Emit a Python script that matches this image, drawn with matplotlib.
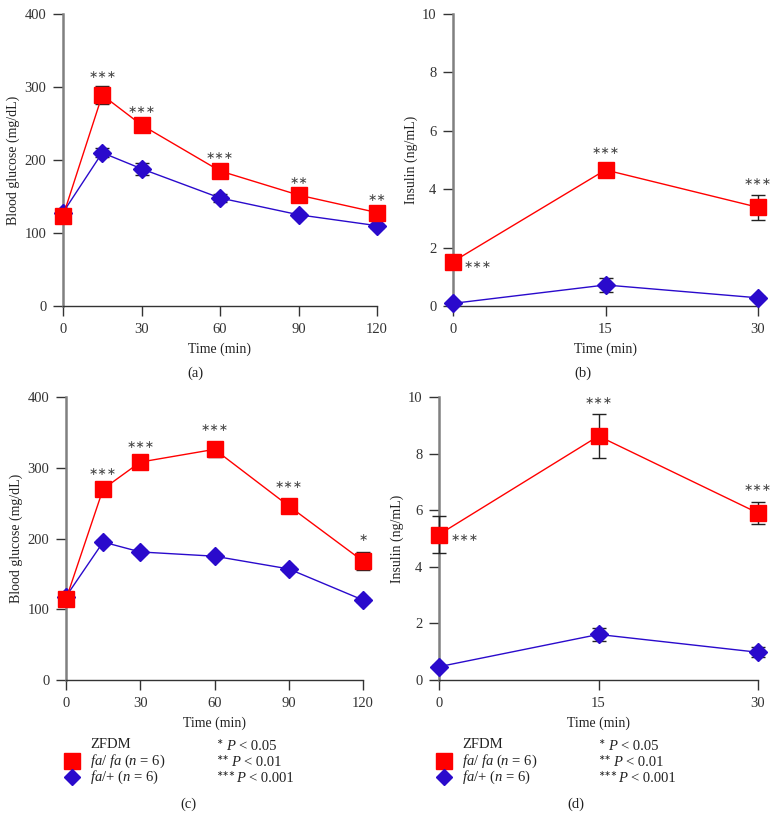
import matplotlib
matplotlib.use("Agg")
import matplotlib.pyplot as plt
from matplotlib.lines import Line2D

plt.rcParams['font.family'] = ['Liberation Serif', 'DejaVu Serif']
plt.rcParams['mathtext.fontset'] = 'custom'
plt.rcParams['mathtext.rm'] = 'Liberation Serif'
plt.rcParams['mathtext.it'] = 'Liberation Serif:italic'

# ---- data ----
t_glu = [0, 15, 30, 60, 90, 120]
t_ins = [0, 15, 30]
glu_ticks = [0, 30, 60, 90, 120]

# (a)
a_fafa = [123, 289, 248, 185, 152, 128]
a_fafa_err = [5, 12, 6, 5, 5, 5]
a_fap = [128, 210, 188, 148, 125, 110]
a_fap_err = [3, 6, 8, 5, 3, 3]
a_stars = ['', '***', '***', '***', '**', '**']

# (b)
b_fafa = [1.52, 4.66, 3.38]
b_fafa_err = [0.1, 0.22, 0.43]
b_fap = [0.09, 0.72, 0.28]
b_fap_err = [0.03, 0.23, 0.05]
b_stars = ['***', '***', '***']

# (c)
c_fafa = [114, 270, 308, 326, 246, 168]
c_fafa_err = [5, 5, 5, 11, 10, 13]
c_fap = [118, 195, 181, 175, 157, 113]
c_fap_err = [3, 3, 3, 3, 3, 3]
c_stars = ['', '***', '***', '***', '***', '*']

# (d)
d_fafa = [5.14, 8.62, 5.9]
d_fafa_err = [0.65, 0.77, 0.4]
d_fap = [0.47, 1.61, 0.98]
d_fap_err = [0.05, 0.23, 0.18]
d_stars = ['***', '***', '***']

red = '#ff0000'
blue = '#2a0acc'
ink = '#222222'

fig = plt.figure(figsize=(7.76, 8.18), dpi=100)
W, H = 776, 818


def make_ax(x0, x1, ytop, ybot):
    return fig.add_axes([x0 / W, 1 - ybot / H, (x1 - x0) / W, (ybot - ytop) / H])


def style(ax, xt, yt, ylabel, xlim, ylim):
    ax.set_xlim(*xlim)
    ax.set_ylim(*ylim)
    ax.set_xticks(xt)
    ax.set_yticks(yt)
    for s in ['top', 'right']:
        ax.spines[s].set_visible(False)
    ax.spines['left'].set_color('#808080')
    ax.spines['left'].set_linewidth(1.8)
    ax.spines['bottom'].set_color('#333333')
    ax.spines['bottom'].set_linewidth(1.0)
    ax.tick_params(direction='out', length=7, width=1, colors='#333333',
                   labelsize=10.5, pad=5)
    ax.set_xlabel('Time (min)', fontsize=10, color=ink, labelpad=5)
    ax.set_ylabel(ylabel, fontsize=10, color=ink, labelpad=3)


def stars_text(ax, x, y, s, **kw):
    ax.text(x, y, '\u2217' * len(s), fontsize=8, color='#444444',
            family=['DejaVu Sans'], **kw)


def draw(ax, t, red_v, red_e, blue_v, blue_e, stars, star_off, side=False):
    ax.errorbar(t, blue_v, yerr=blue_e, color=blue, marker='D', ms=9, lw=1,
                capsize=5, ecolor=ink, elinewidth=1, clip_on=False, zorder=3)
    ax.errorbar(t, red_v, yerr=red_e, color=red, marker='s', ms=12, lw=1,
                capsize=5, ecolor=ink, elinewidth=1, clip_on=False, zorder=4)
    for i, s in enumerate(stars):
        if not s:
            continue
        if side and i == 0:
            stars_text(ax, t[i] + (t[-1] - t[0]) * 0.035, red_v[i] - star_off * 0.4, s,
                       ha='left', va='center')
        else:
            stars_text(ax, t[i], red_v[i] + red_e[i] + star_off, s, ha='center', va='bottom')


ax_a = make_ax(63, 377, 14, 306)
style(ax_a, glu_ticks, [0, 100, 200, 300, 400], 'Blood glucose (mg/dL)', (0, 120), (0, 400))
draw(ax_a, t_glu, a_fafa, a_fafa_err, a_fap, a_fap_err, a_stars, 8)

ax_b = make_ax(453, 758, 14, 306)
style(ax_b, t_ins, [0, 2, 4, 6, 8, 10], 'Insulin (ng/mL)', (0, 30), (0, 10))
draw(ax_b, t_ins, b_fafa, b_fafa_err, b_fap, b_fap_err, b_stars, 0.25, side=True)

ax_c = make_ax(66, 363, 397, 680)
style(ax_c, glu_ticks, [0, 100, 200, 300, 400], 'Blood glucose (mg/dL)', (0, 120), (0, 400))
draw(ax_c, t_glu, c_fafa, c_fafa_err, c_fap, c_fap_err, c_stars, 12)

ax_d = make_ax(439, 758, 397, 680)
style(ax_d, t_ins, [0, 2, 4, 6, 8, 10], 'Insulin (ng/mL)', (0, 30), (0, 10))
draw(ax_d, t_ins, d_fafa, d_fafa_err, d_fap, d_fap_err, d_stars, 0.3, side=True)

# panel letters
for x, y, lab in [(195, 373, '(a)'), (583, 373, '(b)'), (188, 804, '(c)'), (576, 804, '(d)')]:
    fig.text(x / W, 1 - y / H, lab, fontsize=10.5, ha='center', va='center', color=ink)

# legends under (c) and (d)
p_labels = ['< 0.05', '< 0.01', '< 0.001']
for mx, tx, px in [(72, 90, 216), (444, 462, 598)]:
    fig.text(tx / W, 1 - 745 / H, 'ZFDM', fontsize=10.5, va='center', color=ink)
    fig.add_artist(Line2D([mx / W], [1 - 761 / H], marker='s', ms=11, color=red,
                          transform=fig.transFigure))
    fig.add_artist(Line2D([mx / W], [1 - 777 / H], marker='D', ms=8, color=blue,
                          transform=fig.transFigure))
    fig.text(tx / W, 1 - 761 / H, r'$\mathit{fa}$/ $\mathit{fa}$ ($\mathit{n}$ = 6)',
             fontsize=10.5, va='center', color=ink)
    fig.text(tx / W, 1 - 777 / H, r'$\mathit{fa}$/+ ($\mathit{n}$ = 6)',
             fontsize=10.5, va='center', color=ink)
    for k, lab in enumerate(p_labels):
        y = 746 + 16 * k
        nst = k + 1
        fig.text(px / W, 1 - (y - 4) / H, '\u2217' * nst, fontsize=5.5, va='center',
                 color=ink, family=['DejaVu Sans'])
        sx = px + 5 * nst + 5
        fig.text(sx / W, 1 - y / H, 'P', fontsize=10.5, style='italic', va='center', color=ink)
        fig.text((sx + 13) / W, 1 - y / H, lab, fontsize=10.5, va='center', color=ink)

fig.savefig('out.png', dpi=100)
